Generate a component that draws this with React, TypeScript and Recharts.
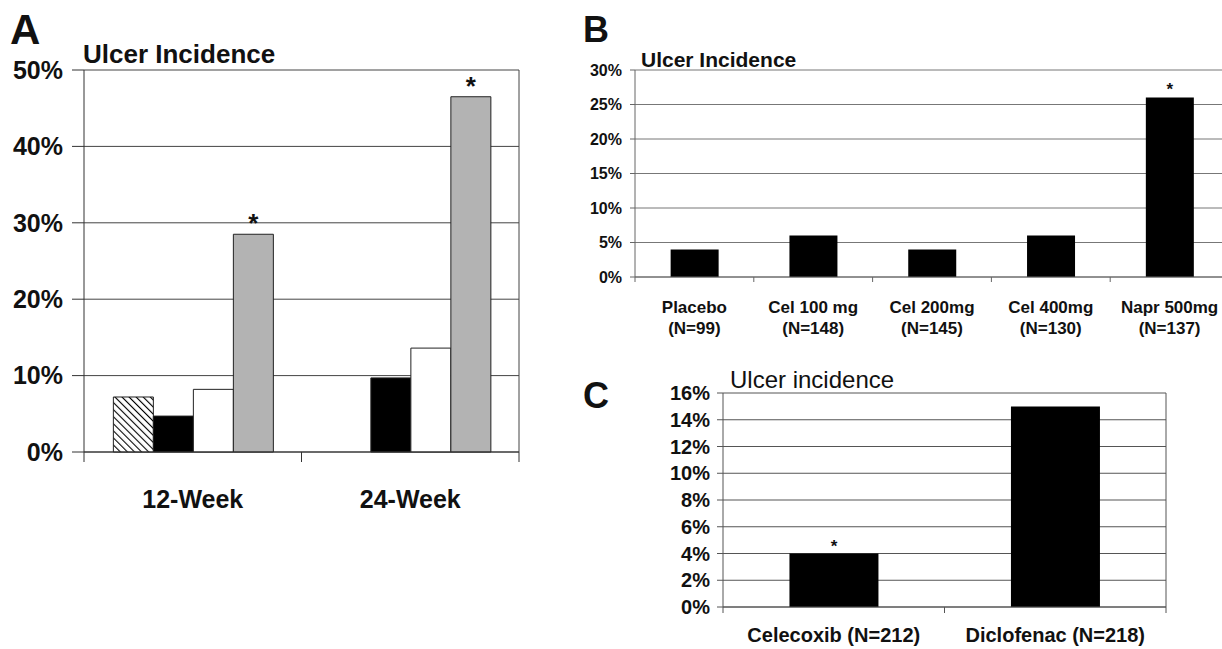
import React from 'react';
import { BarChart, Bar, XAxis, YAxis, CartesianGrid, LabelList } from 'recharts';

const FONT = '"Liberation Sans", Arial, Helvetica, sans-serif';

// Panel A: ulcer incidence at the 12- and 24-week endoscopies
const A_VISITS = ['12-Week', '24-Week'];
const A_PLACEBO = [7.2, null];
const A_CEL_200 = [4.7, 9.7];
const A_CEL_400 = [8.2, 13.6];
const A_NAPROXEN = [28.5, 46.5];
const A_STARS = ['*', '*'];
const A_TICKS = [0, 10, 20, 30, 40, 50];

// Panel B
const B_GROUPS = ['Placebo', 'Cel 100 mg', 'Cel 200mg', 'Cel 400mg', 'Napr 500mg'];
const B_COUNTS = ['(N=99)', '(N=148)', '(N=145)', '(N=130)', '(N=137)'];
const B_ULCER = [4, 6, 4, 6, 26];
const B_STARS = ['', '', '', '', '*'];
const B_TICKS = [0, 5, 10, 15, 20, 25, 30];

// Panel C
const C_GROUPS = ['Celecoxib (N=212)', 'Diclofenac (N=218)'];
const C_ULCER = [4, 15];
const C_STARS = ['*', ''];
const C_TICKS = [0, 2, 4, 6, 8, 10, 12, 14, 16];

const aData = A_VISITS.map((visit, i) => ({
  visit,
  placebo: A_PLACEBO[i],
  cel200: A_CEL_200[i],
  cel400: A_CEL_400[i],
  naproxen: A_NAPROXEN[i],
  star: A_STARS[i],
}));
const bData = B_GROUPS.map((group, i) => ({ group, n: B_COUNTS[i], ulcer: B_ULCER[i], star: B_STARS[i] }));
const cData = C_GROUPS.map((group, i) => ({ group, ulcer: C_ULCER[i], star: C_STARS[i] }));

const pct = (v: number) => `${v}%`;

// x tick drawn Excel style: tick marks on the category boundaries, label centred
function BandTick(props: any) {
  const { x, y, payload, index, band, count, tickLen, stroke, fontSize, lines, lineGap, firstDy } = props;
  const half = band / 2;
  const texts: string[] = lines ? lines[index] : [payload.value];
  return (
    <g>
      <line x1={x - half} y1={y} x2={x - half} y2={y + tickLen} stroke={stroke} />
      {index === count - 1 && <line x1={x + half} y1={y} x2={x + half} y2={y + tickLen} stroke={stroke} />}
      <text x={x} y={y + firstDy} textAnchor="middle" fontFamily={FONT} fontSize={fontSize} fontWeight="bold" fill="#111">
        {texts.map((t, k) => (
          <tspan key={k} x={x} dy={k === 0 ? 0 : lineGap}>
            {t}
          </tspan>
        ))}
      </text>
    </g>
  );
}

const rightEdge = ({ offset }: any) => [offset.left + offset.width];

function PanelA() {
  const W = 540, H = 540;
  const m = { top: 70, right: 21, left: 4, bottom: 0 };
  const yw = 80;
  const band = (W - m.left - m.right - yw) / A_VISITS.length;
  const axis = '#333';
  return (
    <BarChart width={W} height={H} data={aData} margin={m} barCategoryGap="13.5%" barGap={0}>
      <defs>
        <pattern id="hatch" width="5" height="5" patternUnits="userSpaceOnUse" patternTransform="rotate(-45)">
          <rect width="5" height="5" fill="#fff" />
          <line x1="0" y1="0" x2="0" y2="5" stroke="#000" strokeWidth="2.2" />
        </pattern>
      </defs>
      <CartesianGrid stroke="#444" verticalCoordinatesGenerator={rightEdge} />
      <XAxis
        dataKey="visit"
        height={H - 452}
        axisLine={{ stroke: axis }}
        tickLine={false}
        tickSize={0}
        tickMargin={0}
        interval={0}
        tick={(p: any) => (
          <BandTick {...p} band={band} count={A_VISITS.length} tickLen={10} stroke={axis} fontSize={25} firstDy={56} />
        )}
      />
      <YAxis
        width={yw}
        domain={[0, 50]}
        ticks={A_TICKS}
        interval={0}
        tickFormatter={pct}
        axisLine={{ stroke: axis }}
        tickLine={{ stroke: axis }}
        tickSize={12}
        tickMargin={9}
        tick={{ fontSize: 25, fontWeight: 'bold', fill: '#111', fontFamily: FONT }}
      />
      <Bar dataKey="placebo" name="Placebo" fill="url(#hatch)" stroke="#222" isAnimationActive={false} />
      <Bar dataKey="cel200" name="Celecoxib 200 mg" fill="#000" stroke="#222" isAnimationActive={false} />
      <Bar dataKey="cel400" name="Celecoxib 400 mg" fill="#fff" stroke="#222" isAnimationActive={false} />
      <Bar dataKey="naproxen" name="Naproxen 500 mg" fill="#b3b3b3" stroke="#222" isAnimationActive={false}>
        <LabelList dataKey="star" position="top" offset={2} fontSize={26} fontWeight="bold" fill="#111" fontFamily={FONT} />
      </Bar>
    </BarChart>
  );
}

function PanelB() {
  const W = 660, H = 350;
  const m = { top: 70, right: 11, left: 5, bottom: 0 };
  const yw = 50;
  const band = (W - m.left - m.right - yw) / B_GROUPS.length;
  const axis = '#666';
  const lines = B_GROUPS.map((g, i) => [g, B_COUNTS[i]]);
  return (
    <BarChart width={W} height={H} data={bData} margin={m} barCategoryGap="30%">
      <CartesianGrid stroke="#777" verticalCoordinatesGenerator={rightEdge} />
      <XAxis
        dataKey="group"
        height={H - 277}
        axisLine={{ stroke: axis }}
        tickLine={false}
        tickSize={0}
        tickMargin={0}
        interval={0}
        tick={(p: any) => (
          <BandTick {...p} band={band} count={B_GROUPS.length} tickLen={5} stroke={axis} fontSize={17} firstDy={36} lineGap={21} lines={lines} />
        )}
      />
      <YAxis
        width={yw}
        domain={[0, 30]}
        ticks={B_TICKS}
        interval={0}
        tickFormatter={pct}
        axisLine={{ stroke: axis }}
        tickLine={{ stroke: axis }}
        tickSize={5}
        tickMargin={8}
        tick={{ fontSize: 16, fontWeight: 'bold', fill: '#111', fontFamily: FONT }}
      />
      <Bar dataKey="ulcer" name="Ulcer incidence" fill="#000" isAnimationActive={false}>
        <LabelList dataKey="star" position="top" offset={3} fontSize={17} fontWeight="bold" fill="#111" fontFamily={FONT} />
      </Bar>
    </BarChart>
  );
}

function PanelC() {
  const W = 620, H = 309;
  const m = { top: 53, right: 34, left: 83, bottom: 0 };
  const yw = 60;
  const band = (W - m.left - m.right - yw) / C_GROUPS.length;
  const axis = '#555';
  return (
    <BarChart width={W} height={H} data={cData} margin={m} barCategoryGap="30%">
      <CartesianGrid stroke="#555" verticalCoordinatesGenerator={rightEdge} />
      <XAxis
        dataKey="group"
        height={H - 267}
        axisLine={{ stroke: axis }}
        tickLine={false}
        tickSize={0}
        tickMargin={0}
        interval={0}
        tick={(p: any) => (
          <BandTick {...p} band={band} count={C_GROUPS.length} tickLen={6} stroke={axis} fontSize={20} firstDy={35} />
        )}
      />
      <YAxis
        width={yw}
        domain={[0, 16]}
        ticks={C_TICKS}
        interval={0}
        tickFormatter={pct}
        axisLine={{ stroke: axis }}
        tickLine={{ stroke: axis }}
        tickSize={6}
        tickMargin={7}
        tick={{ fontSize: 20, fontWeight: 'bold', fill: '#111', fontFamily: FONT }}
      />
      <Bar dataKey="ulcer" name="Ulcer incidence" fill="#000" isAnimationActive={false}>
        <LabelList dataKey="star" position="top" offset={2} fontSize={17} fontWeight="bold" fill="#111" fontFamily={FONT} />
      </Bar>
    </BarChart>
  );
}

export default function App() {
  return (
    <div style={{ position: 'absolute', left: 0, top: 0, width: 1222, height: 649, overflow: 'hidden', background: '#fff', fontFamily: FONT }}>
      <div style={{ position: 'absolute', left: 0, top: 0 }}>
        <PanelA />
      </div>
      <div style={{ position: 'absolute', left: 580, top: 0 }}>
        <PanelB />
      </div>
      <div style={{ position: 'absolute', left: 580, top: 340 }}>
        <PanelC />
      </div>
      <svg width={1222} height={649} style={{ position: 'absolute', left: 0, top: 0, pointerEvents: 'none' }} fontFamily={FONT} fill="#111">
        <text x={10} y={44} fontSize={42} fontWeight="bold">A</text>
        <text x={83} y={63} fontSize={26} fontWeight="bold">Ulcer Incidence</text>
        <text x={583} y={42} fontSize={36} fontWeight="bold">B</text>
        <text x={641} y={67} fontSize={21} fontWeight="bold">Ulcer Incidence</text>
        <text x={583} y={408} fontSize={36} fontWeight="bold">C</text>
        <text x={730} y={388} fontSize={24}>Ulcer incidence</text>
      </svg>
    </div>
  );
}
